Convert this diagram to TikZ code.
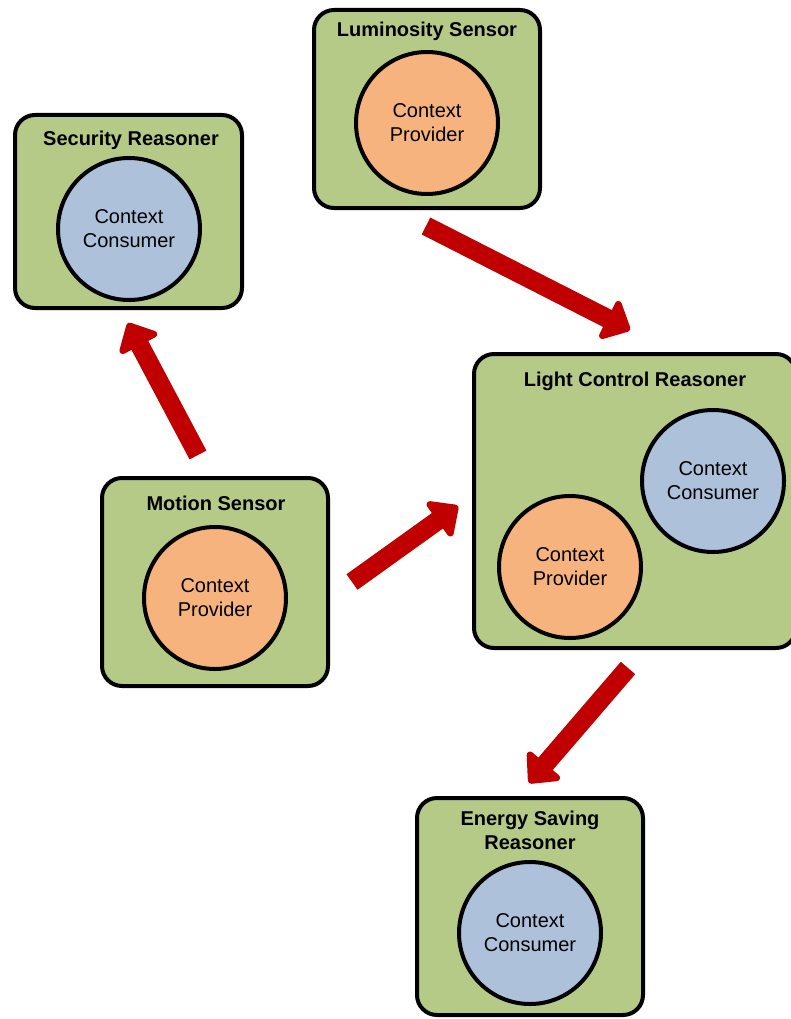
\documentclass[tikz,border=0pt]{standalone}
\usepackage{fontspec}
\setmainfont{Liberation Sans}
\usetikzlibrary{arrows.meta}
\definecolor{boxgreen}{RGB}{182,202,136}
\definecolor{provorange}{RGB}{247,179,126}
\definecolor{consblue}{RGB}{173,193,218}
\definecolor{flowred}{RGB}{192,0,0}
\tikzset{
  agent/.style={draw=black, line width=4pt, fill=boxgreen, rounded corners=20pt, inner sep=0pt},
  title/.style={font=\fontsize{20}{24}\selectfont\bfseries, align=center, inner sep=0pt},
  role/.style={circle, draw=black, line width=4pt, minimum size=142pt, inner sep=0pt,
    font=\fontsize{20}{24}\selectfont, align=center},
  provider/.style={role, fill=provorange},
  consumer/.style={role, fill=consblue},
  flow/.style={draw=flowred, line width=19pt, -{Triangle[width=49pt,length=27pt,round]}, color=flowred}
}
\begin{document}
\begin{tikzpicture}[x=1pt, y=-1pt]
  \useasboundingbox (0,0) rectangle (790,1019);

  % Luminosity sensor
  \node[agent, minimum width=226pt, minimum height=198pt] (lum) at (427,109) {};
  \node[title] (lumT) at (427,31) {Luminosity Sensor};
  \node[provider] (lumP) at (427,123) {Context\\Provider};

  % Security reasoner
  \node[agent, minimum width=227pt, minimum height=193pt] (sec) at (128.5,211.5) {};
  \node[title] (secT) at (131,140) {Security Reasoner};
  \node[consumer] (secC) at (129,229) {Context\\Consumer};

  % Motion sensor
  \node[agent, minimum width=226pt, minimum height=208pt] (mot) at (215,582) {};
  \node[title] (motT) at (216,503) {Motion Sensor};
  \node[provider] (motP) at (215,598) {Context\\Provider};

  % Light control reasoner
  \node[agent, minimum width=322pt, minimum height=294pt] (light) at (635,501) {};
  \node[title] (lightT) at (635,381) {Light Control Reasoner};
  \node[consumer] (lightC) at (713,481) {Context\\Consumer};
  \node[provider] (lightP) at (570,567) {Context\\Provider};

  % Energy saving reasoner
  \node[agent, minimum width=226pt, minimum height=217pt] (energy) at (530,906.5) {};
  \node[title] (energyT) at (530,830) {Energy Saving\\Reasoner};
  \node[consumer] (energyC) at (530,933) {Context\\Consumer};

  % arrow ends
  \coordinate (a1s) at (426,226);
  \coordinate (a1e) at (630,330);
  \coordinate (a2s) at (198,455);
  \coordinate (a2e) at (128,323);
  \coordinate (a3s) at (352,582);
  \coordinate (a3e) at (458,506);
  \coordinate (a4s) at (628,668);
  \coordinate (a4e) at (529,783);

  \draw[flow] (a1s) -- (a1e);
  \draw[flow] (a2s) -- (a2e);
  \draw[flow] (a3s) -- (a3e);
  \draw[flow] (a4s) -- (a4e);
\end{tikzpicture}
\end{document}
